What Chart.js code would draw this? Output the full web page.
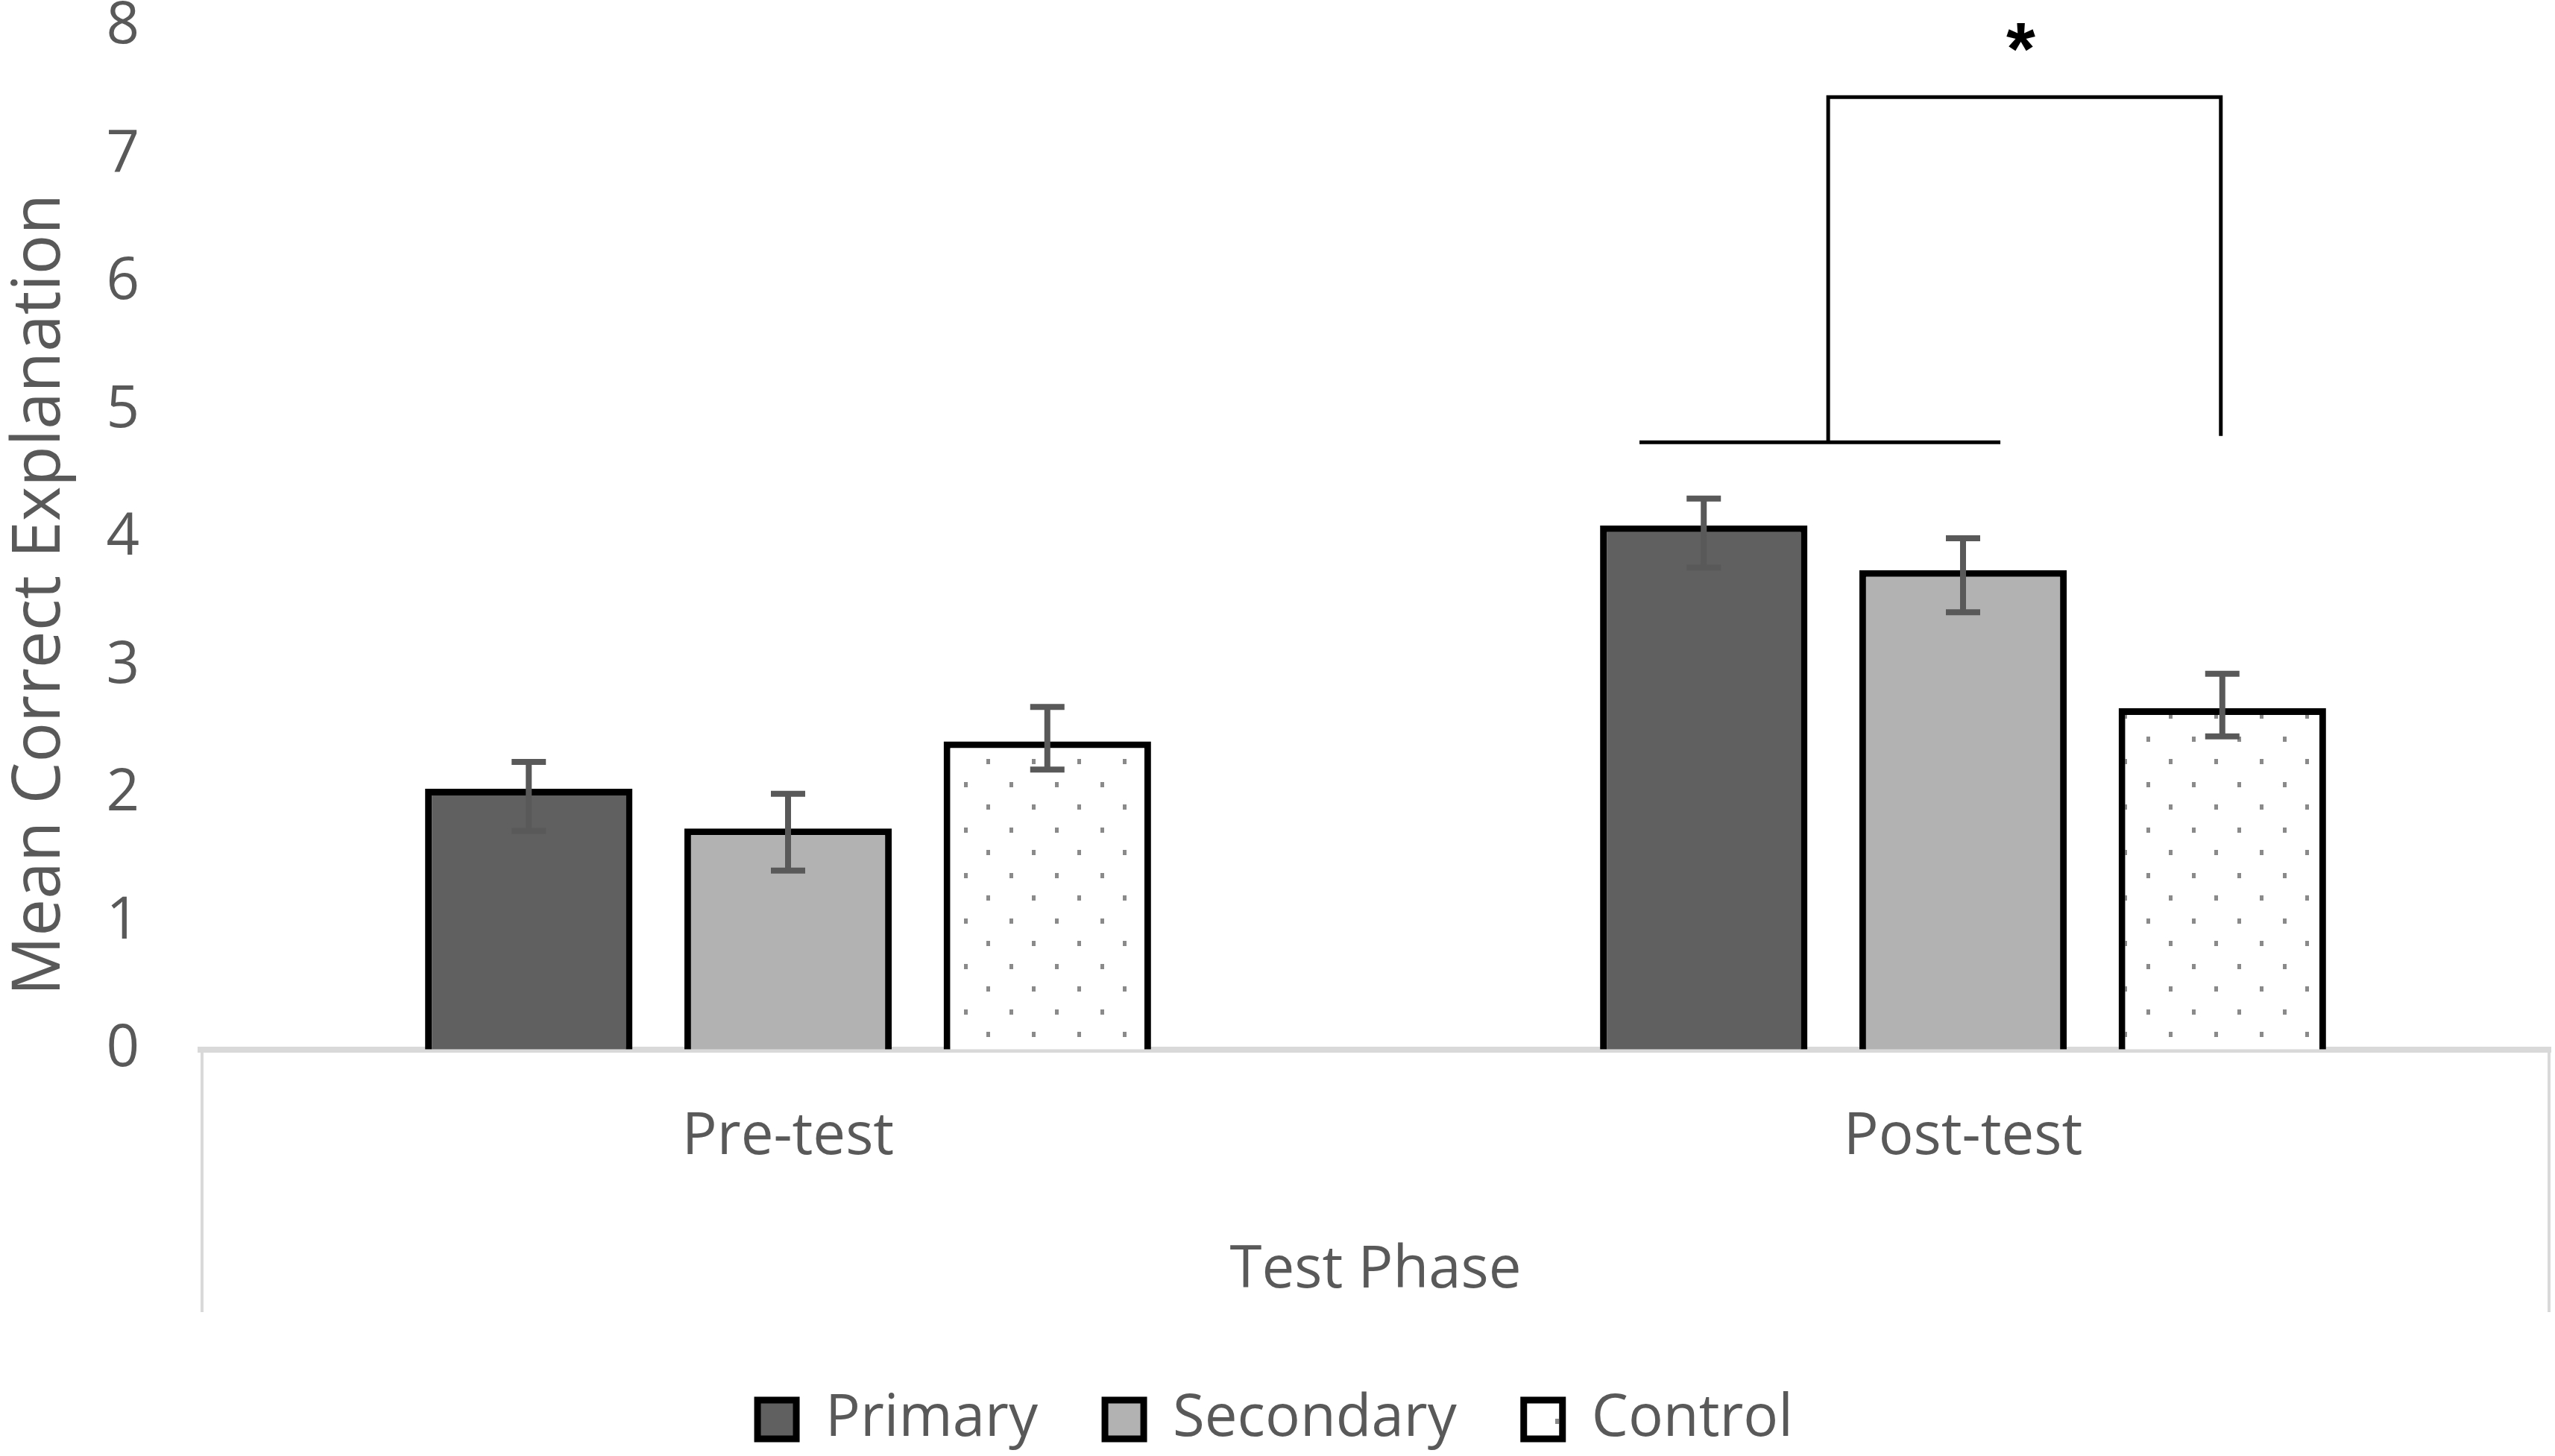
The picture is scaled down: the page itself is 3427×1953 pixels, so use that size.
<!DOCTYPE html>
<html>
<head>
<meta charset="utf-8">
<script src="https://cdn.jsdelivr.net/npm/chart.js@4.4.1/dist/chart.umd.min.js"></script>
<style>
  html, body { margin: 0; padding: 0; background: #ffffff; }
  #wrap { width: 3427px; height: 1953px; }
</style>
</head>
<body>
<div id="wrap"><canvas id="c" width="3427" height="1953"></canvas></div>
<script>
// ---- data ----
const categories = ['Pre-test', 'Post-test'];
const seriesNames = ['Primary', 'Secondary', 'Control'];
const primaryMeans = [2.04, 4.10];
const secondaryMeans = [1.73, 3.75];
const controlMeans = [2.41, 2.67];
const primaryErrUp = [0.21, 0.21];
const primaryErrDown = [0.33, 0.33];
const secondaryErrUp = [0.27, 0.25];
const secondaryErrDown = [0.33, 0.33];
const controlErrUp = [0.27, 0.27];
const controlErrDown = [0.22, 0.22];
const yMin = 0, yMax = 8, yStep = 1;
const yTitle = 'Mean Correct Explanation';
const xTitle = 'Test Phase';
const bracketLow = 4.75;
const bracketHigh = 7.45;
const bracketRightBottom = 4.80;
const starLevel = 7.95;
const starText = '*';

// ---- styles ----
const TEXT = '#595959';
const FONT = '"Open Sans", "Noto Sans", sans-serif';

function dotPattern() {
  const t = document.createElement('canvas');
  t.width = 61; t.height = 61;
  const g = t.getContext('2d');
  g.fillStyle = '#ffffff';
  g.fillRect(0, 0, 61, 61);
  g.fillStyle = '#8a8a8a';
  g.fillRect(12, 12, 5, 7);
  g.fillRect(42, 42, 5, 7);
  return document.getElementById('c').getContext('2d').createPattern(t, 'repeat');
}

const errUp = [primaryErrUp, secondaryErrUp, controlErrUp];
const errDown = [primaryErrDown, secondaryErrDown, controlErrDown];

const errorBarPlugin = {
  id: 'errorBars',
  afterDatasetsDraw(chart) {
    const ctx = chart.ctx;
    const y = chart.scales.y;
    ctx.save();
    ctx.strokeStyle = '#595959';
    ctx.lineWidth = 8;
    chart.data.datasets.forEach((ds, i) => {
      const meta = chart.getDatasetMeta(i);
      meta.data.forEach((bar, j) => {
        const v = ds.data[j];
        const yt = y.getPixelForValue(v + errUp[i][j]);
        const yb = y.getPixelForValue(v - errDown[i][j]);
        const half = 23;
        ctx.beginPath();
        ctx.moveTo(bar.x, yt); ctx.lineTo(bar.x, yb);
        ctx.moveTo(bar.x - half, yt); ctx.lineTo(bar.x + half, yt);
        ctx.moveTo(bar.x - half, yb); ctx.lineTo(bar.x + half, yb);
        ctx.stroke();
      });
    });
    ctx.restore();
  }
};

const boxPlugin = {
  id: 'catBox',
  beforeDatasetsDraw(chart) {
    const ctx = chart.ctx;
    const x = chart.scales.x;
    const top = chart.chartArea.bottom;
    const bottom = x.bottom - 15;
    ctx.save();
    ctx.strokeStyle = '#d9d9d9';
    ctx.lineWidth = 4;
    ctx.beginPath();
    ctx.moveTo(x.left + 2, top); ctx.lineTo(x.left + 2, bottom);
    ctx.moveTo(x.right - 2, top); ctx.lineTo(x.right - 2, bottom);
    ctx.stroke();
    ctx.restore();
  }
};

// y-axis title, placed like the original
const yTitlePlugin = {
  id: 'yTitle',
  afterDraw(chart) {
    const ctx = chart.ctx;
    const a = chart.chartArea;
    ctx.save();
    ctx.fillStyle = TEXT;
    ctx.font = '89px ' + FONT;
    ctx.textAlign = 'center';
    ctx.textBaseline = 'alphabetic';
    ctx.translate(80, (a.top + a.bottom) / 2 + 76);
    ctx.rotate(-Math.PI / 2);
    ctx.fillText(yTitle, 0, 0);
    ctx.restore();
  }
};

const bracketPlugin = {
  id: 'bracket',
  afterDraw(chart) {
    const ctx = chart.ctx;
    const y = chart.scales.y;
    const P = chart.getDatasetMeta(0).data[1];
    const S = chart.getDatasetMeta(1).data[1];
    const C = chart.getDatasetMeta(2).data[1];
    const yl = y.getPixelForValue(bracketLow);
    const yh = y.getPixelForValue(bracketHigh);
    const yr = y.getPixelForValue(bracketRightBottom);
    const lx = (P.x + S.x) / 2 - 7;
    const rx = C.x - 2;
    ctx.save();
    ctx.strokeStyle = '#000000';
    ctx.lineWidth = 5;
    ctx.beginPath();
    ctx.moveTo(P.x - P.width * 0.31, yl); ctx.lineTo(S.x + S.width * 0.18, yl);
    ctx.moveTo(lx, yl); ctx.lineTo(lx, yh);
    ctx.lineTo(rx, yh);
    ctx.lineTo(rx, yr);
    ctx.stroke();
    ctx.fillStyle = '#000000';
    ctx.font = 'bold 100px "Liberation Sans", sans-serif';
    ctx.textAlign = 'center';
    ctx.textBaseline = 'alphabetic';
    ctx.fillText(starText, (lx + rx) / 2 - 5, y.getPixelForValue(starLevel) + 55);
    ctx.restore();
  }
};

const pattern = dotPattern();

new Chart(document.getElementById('c'), {
  type: 'bar',
  data: {
    labels: categories,
    datasets: [
      { label: seriesNames[0], data: primaryMeans, backgroundColor: '#606060' },
      { label: seriesNames[1], data: secondaryMeans, backgroundColor: '#b2b2b2' },
      { label: seriesNames[2], data: controlMeans, backgroundColor: pattern }
    ].map(d => Object.assign(d, {
      borderColor: '#000000', borderWidth: 9,
      barPercentage: 0.8, categoryPercentage: 0.662
    }))
  },
  options: {
    responsive: false,
    devicePixelRatio: 1,
    animation: false,
    layout: { padding: { top: 36, right: 6, bottom: 0, left: 0 } },
    plugins: {
      legend: {
        position: 'bottom',
        labels: {
          color: TEXT,
          font: { family: FONT, size: 78 },
          boxWidth: 52, boxHeight: 52,
          padding: 90
        }
      },
      tooltip: { enabled: false }
    },
    scales: {
      y: {
        min: yMin, max: yMax,
        ticks: { stepSize: yStep, color: TEXT, padding: 82,
                 font: { family: FONT, size: 78, lineHeight: 0.85 } },
        grid: { display: false, drawTicks: false },
        border: { display: false },
        title: { display: false },
        afterFit(scale) {
          scale.width = 269;
          scale.paddingTop = 0;
          scale.paddingBottom = 0;
        }
      },
      x: {
        ticks: { color: TEXT, padding: 71, font: { family: FONT, size: 78 } },
        grid: { display: false, drawTicks: false },
        border: { display: true, color: '#d9d9d9', width: 8 },
        title: { display: true, text: xTitle, color: TEXT,
                 font: { family: FONT, size: 78 },
                 padding: { top: 15, bottom: 23 } }
      }
    }
  },
  plugins: [boxPlugin, errorBarPlugin, bracketPlugin, yTitlePlugin]
});
</script>
</body>
</html>
